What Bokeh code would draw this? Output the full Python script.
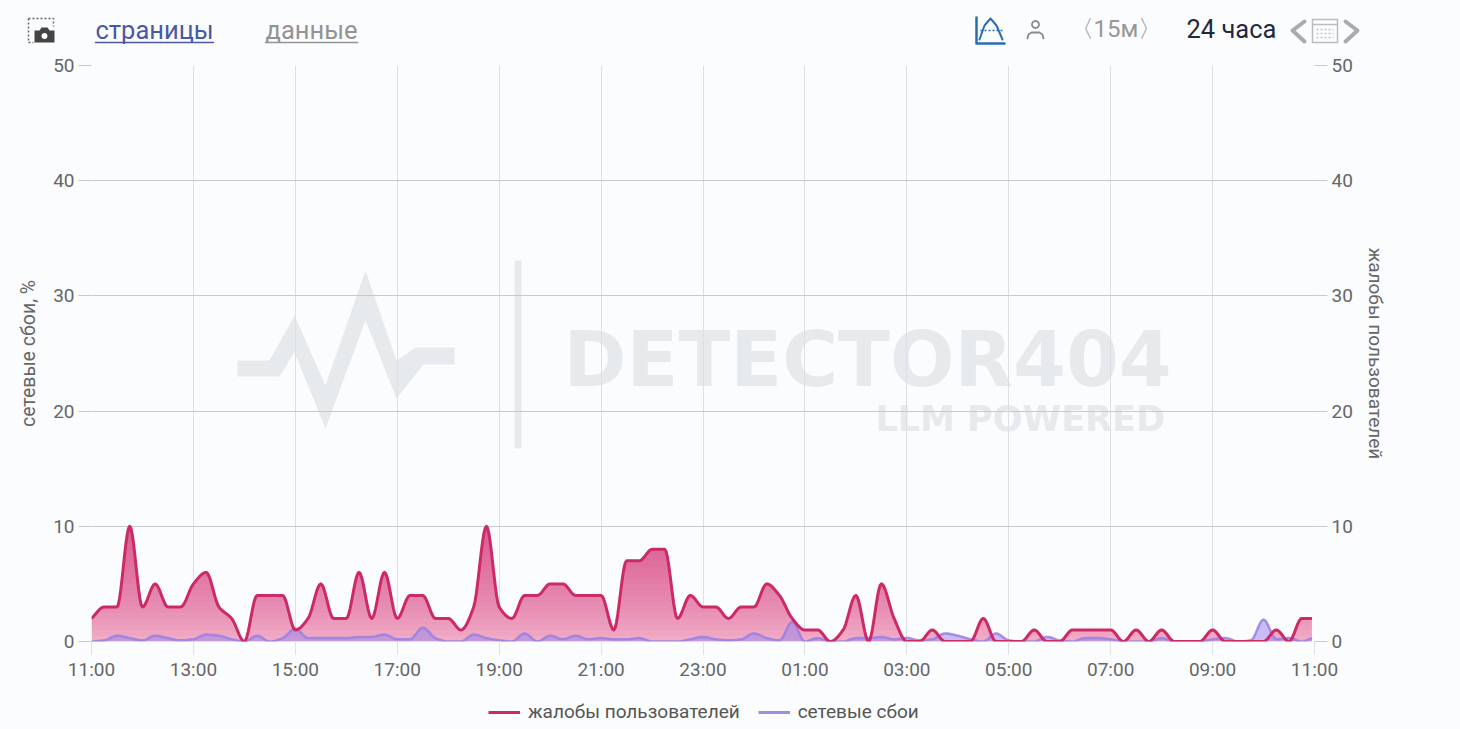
import numpy as np
from bokeh.plotting import figure
from bokeh.layouts import column
from bokeh.embed import file_html
from bokeh.resources import INLINE
from bokeh.core.properties import value
from bokeh.models import (FixedTicker, LinearAxis, Label, PolyAnnotation, Legend, LegendItem)

minutes = [15 * i for i in range(96)] + [1437]
complaints = [2, 3, 3, 10, 3, 5, 3, 3, 5, 6, 3, 2, 0, 4, 4, 4, 1, 2, 5, 2, 2, 6, 2, 6, 2, 4, 4, 2, 2, 1, 3, 10,
              3, 2, 4, 4, 5, 5, 4, 4, 4, 1, 7, 7, 8, 8, 2, 4, 3, 3, 2, 3, 3, 5, 4, 2, 1, 1, 0, 1, 4, 0, 5, 2,
              0, 0, 1, 0, 0, 0, 2, 0, 0, 0, 1, 0, 0, 1, 1, 1, 1, 0, 1, 0, 1, 0, 0, 0, 1, 0, 0, 0, 0, 1, 0, 2, 2]
failures = [0, 0.1, 0.5, 0.3, 0.1, 0.5, 0.3, 0.1, 0.2, 0.6, 0.5, 0.2, 0, 0.5, 0, 0.3, 1.1, 0.3, 0.3, 0.3, 0.3, 0.4, 0.4, 0.6, 0.2, 0.2, 1.2, 0.3, 0, 0, 0.6, 0.3,
            0.1, 0, 0.7, 0, 0.5, 0.2, 0.5, 0.2, 0.3, 0.2, 0.2, 0.3, 0, 0, 0, 0.2, 0.4, 0.2, 0.1, 0.2, 0.7, 0.3, 0.1, 1.7, 0, 0.3, 0, 0, 0.3, 0.3, 0.4, 0.2,
            0.3, 0.1, 0.2, 0.7, 0.5, 0.2, 0, 0.7, 0.1, 0, 0, 0.4, 0.1, 0, 0.3, 0.3, 0.2, 0, 0, 0, 0.3, 0, 0, 0, 0.2, 0.3, 0, 0.1, 1.9, 0.2, 0.3, 0, 0.3]
x_ticks = list(range(0, 1441, 120))
x_labels = ["11:00", "13:00", "15:00", "17:00", "19:00", "21:00", "23:00", "01:00", "03:00", "05:00", "07:00", "09:00", "11:00"]
y_ticks = [0, 10, 20, 30, 40, 50]

BG = "#fbfcfe"
FONT = "Roboto"
W = 1460
HEAD_H = 50
FOOT_H = 38

def sx(px):
    return (px - 91) / 1223 * 1440

def sy(py):
    return (641 - py) / 11.52

def monotone(xv, yv, n=10):
    # draws the read values as a monotone cubic curve, as the source chart's line type does
    xv, yv = np.array(xv, float), np.array(yv, float)
    h = np.diff(xv)
    d = np.diff(yv) / h
    m = np.zeros(len(xv))
    for i in range(1, len(xv) - 1):
        if d[i - 1] * d[i] > 0:
            m[i] = 2 * d[i - 1] * d[i] / (d[i - 1] + d[i])
    m[0], m[-1] = d[0], d[-1]
    X, Y = [], []
    for i in range(len(h)):
        t = np.linspace(0, 1, n, endpoint=False)
        a = (1 + 2 * t) * (1 - t) ** 2
        b = t * (1 - t) ** 2
        c = t ** 2 * (3 - 2 * t)
        e = t ** 2 * (t - 1)
        X.extend(xv[i] + t * h[i])
        Y.extend(a * yv[i] + b * h[i] * m[i] + c * yv[i + 1] + e * h[i] * m[i + 1])
    X.append(xv[-1])
    Y.append(yv[-1])
    return np.array(X), np.clip(np.array(Y), 0, None)

def strip(height, y_range):
    f = figure(width=W, height=height, x_range=(0, W), y_range=y_range,
               output_backend="svg", toolbar_location=None, frame_align=False,
               min_border=0, background_fill_color=BG, border_fill_color=BG)
    f.outline_line_color = None
    f.axis.visible = False
    f.grid.visible = False
    return f

# ---------- main chart ----------
p = figure(width=W, height=690 - HEAD_H, frame_width=1223, frame_height=576, x_range=(0, 1440), y_range=(0, 50),
           output_backend="svg", toolbar_location=None, frame_align=False,
           min_border_left=91, min_border_right=146, min_border_top=65 - HEAD_H, min_border_bottom=49,
           background_fill_color=BG, border_fill_color=BG)
p.outline_line_color = None

def style_axis(ax):
    ax.axis_line_color = None
    ax.major_tick_in = 0
    ax.major_tick_out = 13
    ax.minor_tick_line_color = None
    ax.major_label_text_font = FONT
    ax.major_label_text_font_size = "19px"
    ax.major_label_text_color = "#666666"
    ax.axis_label_text_font = FONT
    ax.axis_label_text_font_style = "normal"
    ax.axis_label_text_color = "#666666"

xa = p.xaxis[0]
xa.ticker = FixedTicker(ticks=x_ticks)
xa.major_label_overrides = dict(zip(x_ticks, x_labels))
style_axis(xa)
xa.major_tick_line_color = "#dfe1e5"
xa.major_label_standoff = 3

ya = p.yaxis[0]
ya.ticker = FixedTicker(ticks=y_ticks)
style_axis(ya)
ya.major_tick_line_color = "#c6c9cd"
ya.major_label_standoff = 4
ya.axis_label = "сетевые сбои, %"
ya.axis_label_text_font_size = "19.5px"
ya.axis_label_standoff = 10

ra = LinearAxis(ticker=FixedTicker(ticks=y_ticks))
style_axis(ra)
ra.major_tick_line_color = "#c6c9cd"
ra.major_label_standoff = 4
ra.axis_label = "жалобы пользователей"
ra.axis_label_text_font_size = "19px"
ra.axis_label_standoff = 8
p.add_layout(ra, "right")

p.xgrid.ticker = FixedTicker(ticks=x_ticks)
p.xgrid.grid_line_color = "#dcdfe3"
p.xgrid.grid_line_width = 1
p.ygrid.ticker = FixedTicker(ticks=y_ticks)
p.ygrid.grid_line_color = "#c6c9cd"
p.ygrid.grid_line_width = 1

# watermark
WM = "#e7eaed"
def wm_poly(pts):
    p.add_layout(PolyAnnotation(xs=[sx(a) for a, _ in pts], ys=[sy(b) for _, b in pts],
                                fill_color=WM, fill_alpha=1, line_alpha=0, level="image"))

def wm_text(px, py, s, size):
    p.add_layout(Label(x=sx(px), y=sy(py), text=s, text_font="DejaVu Sans", text_font_size=size, text_color=WM,
                       text_font_style="bold", text_baseline="middle", text_align="left", level="image"))

wm_poly([(237, 360), (269, 360), (294, 315), (325, 385), (365, 270), (396, 360), (415, 347), (454, 347),
         (454, 364), (423, 364), (396, 398), (365, 320), (325, 428), (294, 352), (279, 376), (237, 376)])
wm_poly([(514, 260), (521, 260), (521, 448), (514, 448)])
wm_text(563, 359, "DETECTOR404", "76px")
wm_text(875, 418, "LLM POWERED", "35px")

# series
xc, yc = monotone(minutes, complaints)
xf, yf = monotone(minutes, failures)

p.varea(x=xc, y1=np.zeros_like(yc), y2=yc, fill_color="#f0a6c3", fill_alpha=0.95)
for lev in np.arange(0.5, 10, 0.5):
    p.varea(x=xc, y1=np.minimum(yc, lev), y2=yc, fill_color="#d0316f", fill_alpha=0.042)
p.varea(x=xf, y1=np.zeros_like(yf), y2=yf, fill_color="#9f86ec", fill_alpha=0.55)
p.line(xf, yf, line_color="#9a7fe0", line_alpha=0.85, line_width=2.5, line_join="round")
p.line(xc, yc, line_color="#cc2a66", line_width=3, line_join="round")

# ---------- header strip: y runs downward in page pixels ----------
h = strip(HEAD_H, (HEAD_H, 0))

def htext(px, py, s, size, color):
    h.text([px], [py], text=[s], text_font=value(FONT), text_font_size=value(size), text_color=color,
           text_baseline="middle", text_align="left")

def hline(pts, color, width=2, dash="solid"):
    h.line([a for a, _ in pts], [b for _, b in pts], line_color=color, line_width=width,
           line_dash=dash, line_cap="round" if dash == "solid" else "butt", line_join="round")

def hcircle(cx, cy, r, k=24):
    t = np.linspace(0, 2 * np.pi, k)
    return list(zip(cx + r * np.cos(t), cy + r * np.sin(t)))

htext(95, 29, "страницы", "25.5px", "#4a58a8")
hline([(95, 42), (213, 42)], "#4a58a8", 1.5)
htext(265, 29, "данные", "25.5px", "#939393")
hline([(265, 42), (357, 42)], "#939393", 1.5)

# camera icon
hline([(28, 18), (53, 18), (53, 26)], "#666666", 1.5, "2 2")
hline([(28, 18), (28, 42), (33, 42)], "#666666", 1.5, "2 2")
cam = [(34, 30), (39, 30), (41, 27), (47, 27), (49, 30), (54, 30), (54, 42), (34, 42)]
h.patch([a for a, _ in cam], [b for _, b in cam], fill_color="#444444", line_color=None)
lens = hcircle(44, 35.5, 3)
h.patch([a for a, _ in lens], [b for _, b in lens], fill_color=BG, line_color=None)

# chart icon
hline([(976, 17), (976, 43), (1004, 43)], "#2a6db0", 2.5)
hline([(979, 39), (984, 25), (990, 18), (996, 25), (1002, 39)], "#2a6db0", 2)
hline([(980, 30), (1003, 30)], "#2a6db0", 1.5, "2 2")

# person icon
hline(hcircle(1035, 24, 3.5), "#8c8c8c", 1.8)
hline([(1027, 38), (1028, 34), (1031, 32), (1039, 32), (1042, 34), (1043, 38)], "#8c8c8c", 1.8)

htext(1069, 28, "〈15м〉", "24px", "#979797")
htext(1186, 28, "24 часа", "25.5px", "#23283f")

# pager and calendar
hline([(1304, 21), (1292, 30), (1304, 41)], "#ababab", 4)
hline([(1345, 21), (1357, 30), (1345, 41)], "#ababab", 4)
hline([(1312, 19), (1337, 19), (1337, 42), (1312, 42), (1312, 19)], "#bcbcbc", 1.5)
hline([(1312, 24), (1337, 24)], "#bcbcbc", 1.5)
for row in (29, 33, 37):
    hline([(1316, row), (1333, row)], "#c4c4c4", 1.5, "2 2")

# ---------- legend strip ----------
f = strip(FOOT_H, (0, FOOT_H))
# keys only: their samples lie outside this strip's range, so only the legend shows them
key_c = f.line([-20, -10], [-20, -20], line_color="#cc2a66", line_width=3)
key_f = f.line([-20, -10], [-20, -20], line_color="#a08ce2", line_width=3)
legend = Legend(items=[LegendItem(label="жалобы пользователей", renderers=[key_c]),
                       LegendItem(label="сетевые сбои", renderers=[key_f])],
                orientation="horizontal", location=(488, 5),
                label_text_font=FONT, label_text_font_size="19px", label_text_color="#555555",
                glyph_width=32, glyph_height=16, label_standoff=8, spacing=18,
                border_line_color=None, background_fill_alpha=0, margin=0, padding=4)
f.add_layout(legend, "center")

page = column(h, p, f, spacing=0)
html = file_html(page, INLINE)
html = html.replace("<head>", "<head><style>html,body{background:%s}</style>" % BG, 1)
open("out.html", "w").write(html)
